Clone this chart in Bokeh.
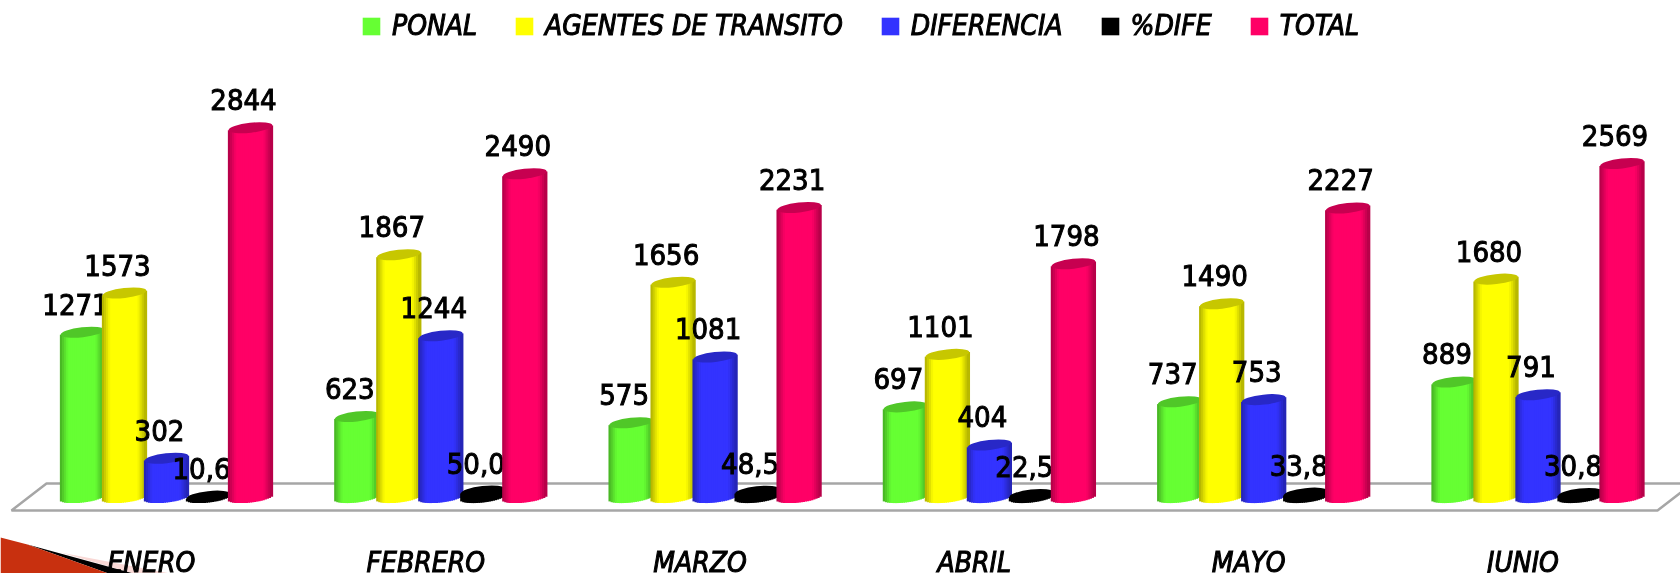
import numpy as np
from bokeh.core.properties import value
from bokeh.embed import file_html
from bokeh.models import (FixedTicker, Legend, LegendItem, PolyAnnotation, Range1d)
from bokeh.plotting import figure
from bokeh.resources import INLINE

months = ["ENERO", "FEBRERO", "MARZO", "ABRIL", "MAYO", "JUNIO"]
series = ["PONAL", "AGENTES DE TRANSITO", "DIFERENCIA", "%DIFE", "TOTAL"]
ponal = [1271, 623, 575, 697, 737, 889]
agentes = [1573, 1867, 1656, 1101, 1490, 1680]
diferencia = [302, 1244, 1081, 404, 753, 791]
dife = [10.6, 50.0, 48.5, 22.5, 33.8, 30.8]
total = [2844, 2490, 2231, 1798, 2227, 2569]
colors = ["#66FF33", "#FFFF00", "#3333FF", "#000000", "#FF0066"]

W, H = 1680, 573
AXIS_PX = 540.0
BASE_PX, PX_PER_UNIT = 497.0, 0.13
X0_PX, STEP_PX = 208.0, 274.3
BAR_PX, BAR_STEP, SEMI_MINOR, TILT = 44.0, 42.0, 5.0, 2.5
FONT = "DejaVu Sans Condensed"


def shade(hex_color, f):
    rgb = [int(hex_color[i:i + 2], 16) for i in (1, 3, 5)]
    return "#%02x%02x%02x" % tuple(int(round(c * f)) for c in rgb)


def from_top(ys):
    return [H - y for y in ys]


p = figure(width=W, height=H, frame_width=W, frame_height=H,
           x_range=Range1d(-X0_PX / STEP_PX, (W - X0_PX) / STEP_PX),
           y_range=Range1d((BASE_PX - H) / PX_PER_UNIT, BASE_PX / PX_PER_UNIT),
           output_backend="svg", toolbar_location=None,
           min_border=0, min_border_left=0, min_border_right=0, min_border_top=0,
           min_border_bottom=0, outline_line_color=None,
           background_fill_color="white", border_fill_color="white")
p.styles = {"position": "fixed", "left": "0", "top": "0"}
p.grid.visible = False
p.yaxis.visible = False

ax = p.xaxis[0]
ax.fixed_location = (BASE_PX - AXIS_PX) / PX_PER_UNIT
label_shift = -0.208
ticks = [round(i + label_shift, 3) for i in range(len(months))]
ax.ticker = FixedTicker(ticks=ticks)
ax.major_label_overrides = {t: m for t, m in zip(ticks, months)}
ax.axis_line_color = None
ax.major_tick_line_color = None
ax.minor_tick_line_color = None
ax.major_tick_out = 0
ax.major_tick_in = 0
ax.major_label_standoff = 5
ax.major_label_text_font = FONT
ax.major_label_text_font_style = "italic"
ax.major_label_text_font_size = "28px"
ax.major_label_text_color = "#000000"
ax.major_label_text_outline_color = "#000000"

# floor of the chart and the slide's corner decoration
plate = dict(level="underlay", xs_units="screen", ys_units="screen")
p.add_layout(PolyAnnotation(xs=[11, 46, 1692, 1657], ys=from_top([510, 483, 483, 510]),
                            fill_alpha=0, line_color="#A6A6A6", line_alpha=1, line_width=2.5, **plate))
p.add_layout(PolyAnnotation(xs=[60, 170, 133], ys=from_top([552, 573, 573]),
                            fill_color="#F9D9D6", fill_alpha=1, line_alpha=0, **plate))
p.add_layout(PolyAnnotation(xs=[27, 133, 108], ys=from_top([544, 573, 573]),
                            fill_color="#000000", fill_alpha=1, line_alpha=0, **plate))
p.add_layout(PolyAnnotation(xs=[0, 27, 108, 0], ys=from_top([537, 544, 573, 573]),
                            fill_color="#C8300F", fill_alpha=1, line_alpha=0, **plate))

bar_w = BAR_PX / STEP_PX
t_vals = (np.arange(21) + 0.5) / 21 * 2 - 1
legend_items = []
for s_i, (name, vals, col) in enumerate(zip(series, [ponal, agentes, diferencia, dife, total], colors)):
    offset = (s_i - 3) * (BAR_STEP / STEP_PX)
    xs, tops, bottoms, cols = [], [], [], []
    for g, v in enumerate(vals):
        for t in t_vals:
            xs.append(g + offset + t * bar_w / 2)
            tops.append(v + TILT * t / PX_PER_UNIT)
            bottoms.append(-(SEMI_MINOR * np.sqrt(1 - t * t) - TILT * t) / PX_PER_UNIT)
            f = 1.0 if abs(t) < 0.62 else 1.0 - 0.32 * (abs(t) - 0.62) / 0.38
            cols.append(shade(col, f))
    p.vbar(x=xs, top=tops, bottom=bottoms, width=bar_w / 21 * 1.6,
           fill_color=cols, line_color=None)
    centers = [g + offset for g in range(len(vals))]
    p.ellipse(x=centers, y=vals, width=BAR_PX, height=2 * SEMI_MINOR,
              width_units="screen", height_units="screen", angle=0.11,
              fill_color=shade(col, 0.78), line_color=None)
    labels = [f"{v:.1f}".replace(".", ",") if name == "%DIFE" else str(v) for v in vals]
    p.text(x=centers, y=vals, text=labels, x_offset=-7, y_offset=-28,
           text_align="center", text_baseline="middle", text_color="#000000",
           text_outline_color="#000000",
           text_font=value(FONT), text_font_size="29px")
    key = p.vbar(x=[float("nan")], top=[0], bottom=[0], width=bar_w, fill_color=col, line_color=None)
    legend_items.append(LegendItem(label=name, renderers=[key]))

legend = Legend(items=legend_items, orientation="horizontal", location=(360, H - 42),
                glyph_width=22, glyph_height=22, label_standoff=10, spacing=36,
                padding=0, margin=0, border_line_color=None, background_fill_alpha=0,
                label_text_font=FONT, label_text_font_style="italic",
                label_text_outline_color="#000000",
                label_text_font_size="28px", label_text_color="#000000")
p.add_layout(legend, "center")

open("out.html", "w").write(file_html(p, INLINE))
